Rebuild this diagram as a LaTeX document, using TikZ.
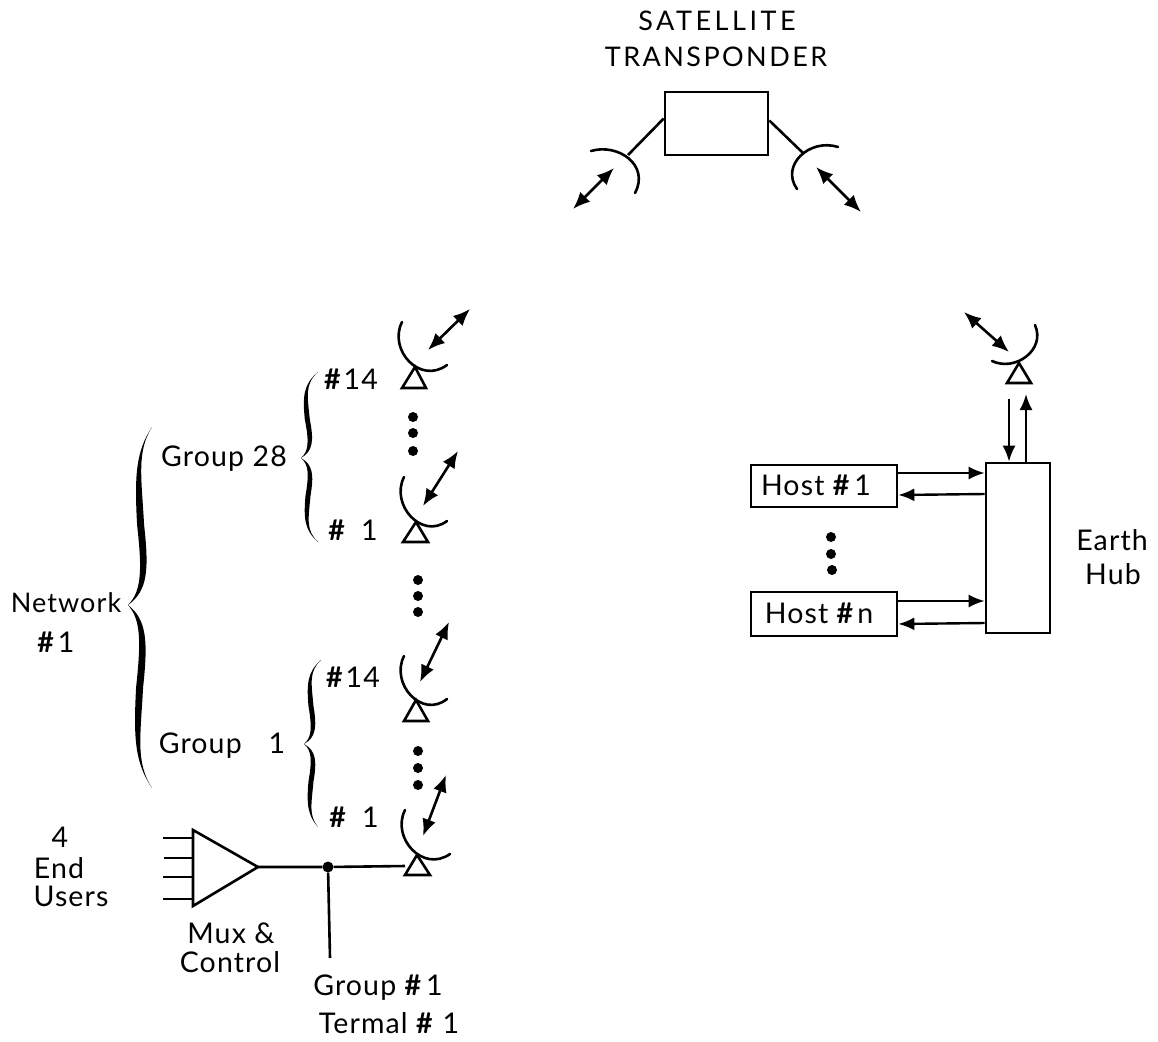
\documentclass[tikz,border=0pt]{standalone}
\usepackage{fontspec}
\setmainfont{Lato}[LetterSpace=4]
\newfontfamily\widefont{Lato}[LetterSpace=13]
\newfontfamily\midfont{Lato}[LetterSpace=9]
\usetikzlibrary{arrows.meta}
\tikzset{
  lab/.style={inner sep=0pt,font=\fontsize{28.5}{30}\selectfont,text=black},
  capslab/.style={inner sep=0pt,text=black},
  boxn/.style={draw,line width=2.6pt,inner sep=0pt},
  wire/.style={line width=2.6pt},
  dish/.style={line width=2.6pt,line cap=round},
  tri/.style={line width=2.6pt,line join=miter},
  dblarrow/.style={line width=2.6pt,{Latex[length=17pt,width=14pt]}-{Latex[length=17pt,width=14pt]}},
  arrowr/.style={line width=2.4pt,-{Latex[length=16pt,width=13pt]}},
  dotn/.style={fill,black,circle,inner sep=0pt,minimum size=10pt}
}
\newcommand{\hs}{{\bfseries\#}}
% left-facing dish from start point #1,#2 with end offset (#3,#4)
\newcommand{\ldish}[4]{\draw[dish] (#1,#2) .. controls ({#1-14},{#2+28}) and ({#1+18},{#2+63}) .. ({#1+#3},{#2+#4});}
% half of a curly brace: #1 end x, #2 end y, #3 tip y, #4 tip x, #5 body x, #6 inward swing, #7 width
\newcommand{\halfbrace}[7]{%
  \fill[black] (#1,#2)
   .. controls ({#5+0.5},{#2+0.14*(#3-#2)}) and ({#5-0.5},{#2+0.28*(#3-#2)}) .. ({#5+0.3*#6},{#2+0.55*(#3-#2)})
   .. controls ({#5+#6},{#2+0.8*(#3-#2)}) and ({#5+#6},{#2+0.92*(#3-#2)}) .. (#4,#3)
   .. controls ({#5+#6+#7-1},{#2+0.92*(#3-#2)}) and ({#5+#6+#7},{#2+0.8*(#3-#2)}) .. ({#5+0.3*#6+#7},{#2+0.55*(#3-#2)})
   .. controls ({#5+#7-0.5},{#2+0.28*(#3-#2)}) and ({#5+1.5},{#2+0.14*(#3-#2)}) .. (#1,#2) -- cycle;}
\begin{document}
\begin{tikzpicture}[x=1pt,y=-1pt]
\useasboundingbox[fill=white] (0,0) rectangle (1158,1041);

% Satellite
\node[capslab,font=\widefont\fontsize{27}{30}\selectfont] (sat1) at (717,21) {SATELLITE};
\node[capslab,font=\midfont\fontsize{27}{30}\selectfont] (sat2) at (716,57) {TRANSPONDER};
\node[boxn,minimum width=103pt,minimum height=63pt] (sat) at (716.5,123.5) {};
\coordinate (sl) at (628,155);
\coordinate (sr) at (803,153);
\draw[wire] ([yshift=5]sat.west) -- (sl);
\draw[wire] ([yshift=3]sat.east) -- (sr);
\draw[dish] (591,151) .. controls (618,143) and (650,165) .. (635,193);
\draw[dish] (838,147) .. controls (810,138) and (780,165) .. (797,189);
\coordinate (a1a) at (573,209); \coordinate (a1b) at (614,168);
\coordinate (a2a) at (816,167); \coordinate (a2b) at (861,212);
\draw[dblarrow] (a1a) -- (a1b);
\draw[dblarrow] (a2a) -- (a2b);

% Group 28 #14
\ldish{402}{322}{45}{43}
\draw[tri] (415,367) -- (402,388) -- (426,388) -- cycle;
\coordinate (b1a) at (428,350); \coordinate (b1b) at (470,309);
\draw[dblarrow] (b1a) -- (b1b);
\node[dotn] (d1) at (413,417) {}; \node[dotn] (d2) at (413,433) {}; \node[dotn] (d3) at (413,451) {};

% Group 28 #1
\ldish{404}{477}{43}{44}
\draw[tri] (416,522) -- (403,542) -- (428,542) -- cycle;
\coordinate (b2a) at (423,506); \coordinate (b2b) at (458,451);
\draw[dblarrow] (b2a) -- (b2b);
\node[dotn] (d4) at (418,580) {}; \node[dotn] (d5) at (418,596) {}; \node[dotn] (d6) at (418,612) {};

% Group 1 #14
\ldish{404}{656}{43}{43}
\draw[tri] (416,700) -- (404,721) -- (428,721) -- cycle;
\coordinate (b3a) at (420,682); \coordinate (b3b) at (449,622);
\draw[dblarrow] (b3a) -- (b3b);
\node[dotn] (d7) at (418,751) {}; \node[dotn] (d8) at (418,768) {}; \node[dotn] (d9) at (418,785) {};

% Group 1 #1
\ldish{405}{810}{45}{44}
\draw[tri] (417,855) -- (405,875) -- (430,875) -- cycle;
\coordinate (b4a) at (423,836); \coordinate (b4b) at (446,775);
\draw[dblarrow] (b4a) -- (b4b);

% Mux
\coordinate (mt) at (258,867);
\coordinate (mu) at (193,830);
\coordinate (md) at (193,906);
\draw[tri] (mu) -- (mt) -- (md) -- cycle;
\coordinate (i1) at (163,838); \coordinate (j1) at (193,838);
\coordinate (i2) at (164,858); \coordinate (j2) at (193,858);
\coordinate (i3) at (163,877); \coordinate (j3) at (193,877);
\coordinate (i4) at (163,899); \coordinate (j4) at (193,899);
\draw[wire] (i1) -- (j1); \draw[wire] (i2) -- (j2); \draw[wire] (i3) -- (j3); \draw[wire] (i4) -- (j4);
\node[dotn,minimum size=11pt] (jn) at (328,867) {};
\coordinate (tw) at (405,866);
\coordinate (dn) at (330,958);
\draw[wire] (mt) -- (jn) -- (tw);
\draw[wire] (jn) -- (dn);

% Hub
\node[boxn,minimum width=64pt,minimum height=170pt] (hub) at (1018,548) {};
\node[boxn,minimum width=146pt,minimum height=42pt] (h1) at (824,486) {};
\node[boxn,minimum width=146pt,minimum height=44pt] (hn) at (824,614) {};
\node[lab] (h1t) at (816,485) {Host \hs\hspace{5pt}1};
\node[lab] (hnt) at (819,613) {Host \hs\hspace{4pt}n};
\draw[arrowr] ([yshift=13]h1.east) -- ([yshift=75]hub.west);
\draw[arrowr] ([yshift=54]hub.west) -- ([yshift=-9]h1.east);
\draw[arrowr] ([yshift=13]hn.east) -- ([yshift=-53]hub.west);
\draw[arrowr] ([yshift=-75]hub.west) -- ([yshift=-10]hn.east);
\node[dotn] (e1) at (831,537) {}; \node[dotn] (e2) at (831,554) {}; \node[dotn] (e3) at (832,570) {};

% Hub dish
\draw[dish] (1035,325) .. controls (1046,350) and (1015,372) .. (992,361);
\draw[tri] (1019,363) -- (1007,383) -- (1031,383) -- cycle;
\coordinate (c1a) at (964,312); \coordinate (c1b) at (1009,352);
\draw[dblarrow] (c1a) -- (c1b);
\coordinate (c2) at (1009,399); \coordinate (c3) at (1026,394);
\draw[arrowr] (c2) -- ([xshift=-9]hub.north);
\draw[arrowr] ([xshift=8]hub.north) -- (c3);

% Braces
\halfbrace{152}{427}{605}{128}{135}{7}{7}
\halfbrace{152}{788}{605}{128}{134}{7}{7}
\halfbrace{318}{372}{458}{301}{303}{6}{5}
\halfbrace{318}{542}{458}{301}{304}{5}{5}
\halfbrace{321}{660}{744}{304}{307}{5}{5}
\halfbrace{318}{827}{744}{304}{307}{5}{5}

% Labels
\node[lab] (l1) at (224,459) {Group 28};
\node[lab] (l2) at (222,746) {Group\hspace{27pt}1};
\node[lab,font=\fontsize{27}{30}\selectfont] (l3) at (66,603) {Network};
\node[lab] (l4) at (56,642) {\hs\hspace{4pt}1};
\node[lab] (l5) at (351,379) {\hs\hspace{3pt}14};
\node[lab] (l6) at (353,530) {\hs\hspace{16pt}1};
\node[lab] (l7) at (353,677) {\hs\hspace{3pt}14};
\node[lab] (l8) at (354,817) {\hs\hspace{16pt}1};
\node[lab] (l9) at (60,837) {4};
\node[lab] (l10) at (59,868) {End};
\node[lab] (l11) at (71,896) {Users};
\node[lab] (l12) at (231,933) {Mux \&};
\node[lab] (l13) at (230,962) {Control};
\node[lab] (l14) at (378,988) {Group \hs\hspace{5pt}1};
\node[lab] (l15) at (389,1023) {Termal \hs\hspace{10pt}1};
\node[lab] (l16) at (1112,540) {Earth};
\node[lab] (l17) at (1113,574) {Hub};
\end{tikzpicture}
\end{document}
